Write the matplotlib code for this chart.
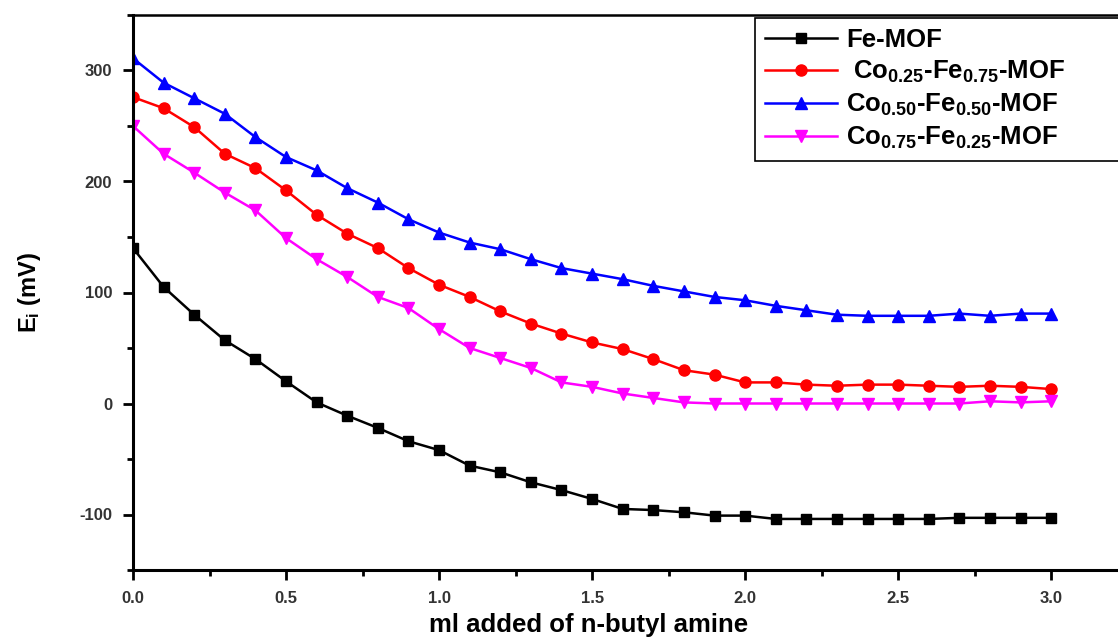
import matplotlib
matplotlib.use("Agg")
import matplotlib.pyplot as plt
from matplotlib.ticker import MultipleLocator, FormatStrFormatter

plt.rcParams['font.family'] = 'Liberation Sans'
plt.rcParams['font.weight'] = 'bold'
plt.rcParams['axes.unicode_minus'] = False
plt.rcParams['mathtext.fontset'] = 'custom'
plt.rcParams['mathtext.rm'] = 'Liberation Sans:bold'
plt.rcParams['mathtext.bf'] = 'Liberation Sans:bold'
plt.rcParams['mathtext.default'] = 'bf'

# ml of n-butyl amine added
vol = [0.0, 0.1, 0.2, 0.3, 0.4, 0.5, 0.6, 0.7, 0.8, 0.9, 1.0,
       1.1, 1.2, 1.3, 1.4, 1.5, 1.6, 1.7, 1.8, 1.9, 2.0,
       2.1, 2.2, 2.3, 2.4, 2.5, 2.6, 2.7, 2.8, 2.9, 3.0]

fe_mof = [140, 105, 80, 57, 40, 20, 1, -11, -22, -34, -42,
          -56, -62, -71, -78, -86, -95, -96, -98, -101, -101,
          -104, -104, -104, -104, -104, -104, -103, -103, -103, -103]

co25 = [276, 266, 249, 225, 212, 192, 170, 153, 140, 122, 107,
        96, 83, 72, 63, 55, 49, 40, 30, 26, 19,
        19, 17, 16, 17, 17, 16, 15, 16, 15, 13]

co50 = [311, 289, 275, 261, 240, 222, 210, 194, 181, 166, 154,
        145, 139, 130, 122, 117, 112, 106, 101, 96, 93,
        88, 84, 80, 79, 79, 79, 81, 79, 81, 81]

co75 = [250, 225, 208, 190, 174, 149, 130, 114, 96, 86, 67,
        50, 41, 32, 19, 15, 9, 5, 1, 0, 0,
        0, 0, 0, 0, 0, 0, 0, 2, 1, 2]

fig = plt.figure(figsize=(11.18, 6.42), dpi=100)
ax = fig.add_axes([133 / 1118, 72 / 642, 1010 / 1118, 555 / 642])

ms = 7.5
lw = 1.8
ax.plot(vol, fe_mof, color='black', marker='s', ms=ms, lw=lw, label='Fe-MOF')
ax.plot(vol, co25, color='red', marker='o', ms=ms + 0.5, lw=lw,
        label=r' Co$_{0.25}$-Fe$_{0.75}$-MOF')
ax.plot(vol, co50, color='blue', marker='^', ms=ms + 1, lw=lw,
        label=r'Co$_{0.50}$-Fe$_{0.50}$-MOF')
ax.plot(vol, co75, color='magenta', marker='v', ms=ms + 1, lw=lw,
        label=r'Co$_{0.75}$-Fe$_{0.25}$-MOF')

ax.set_xlim(0, 3.3)
ax.set_ylim(-150, 350)
ax.xaxis.set_major_locator(MultipleLocator(0.5))
ax.xaxis.set_minor_locator(MultipleLocator(0.25))
ax.yaxis.set_major_locator(MultipleLocator(100))
ax.yaxis.set_minor_locator(MultipleLocator(50))
ax.xaxis.set_major_formatter(FormatStrFormatter('%.1f'))

for side in ['left', 'bottom']:
    ax.spines[side].set_linewidth(2.2)
ax.spines['top'].set_linewidth(1.8)
ax.spines['right'].set_visible(False)

ax.tick_params(which='major', direction='out', length=7, width=2,
               labelsize=12, labelcolor='#333333', pad=8)
ax.tick_params(which='minor', direction='out', length=4, width=2)
ax.tick_params(top=False, right=False, which='both')

ax.set_xlabel('ml added of n-butyl amine', fontsize=18.5, fontweight='bold')
ax.xaxis.set_label_coords(0.4515, -0.077)
ax.set_ylabel(r'E$_{i}$ (mV)', fontsize=17, fontweight='bold', labelpad=26)

leg = fig.legend(loc='upper left',
                 bbox_to_anchor=(755 / 1118, 1 - 166 / 642, 400 / 1118, 148 / 642),
                 mode='expand', fontsize=18.5, frameon=True, fancybox=False,
                 framealpha=1, edgecolor='black', borderaxespad=0,
                 handlelength=2.8, labelspacing=0.26, borderpad=0.4,
                 handletextpad=0.35)
leg.get_frame().set_linewidth(1.2)

fig.savefig('out.png', dpi=100)
